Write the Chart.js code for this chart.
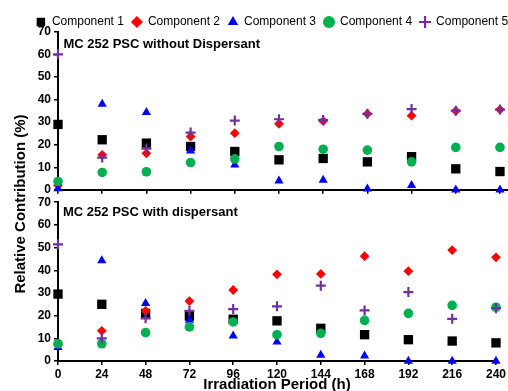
<!DOCTYPE html>
<html><head><meta charset="utf-8">
<script src="https://cdn.jsdelivr.net/npm/chart.js@4.4.1/dist/chart.umd.min.js"></script>
<style>
html,body{margin:0;padding:0;background:#fff;overflow:hidden;}
#wrap{position:relative;width:508px;height:391px;overflow:hidden;background:#fff;}
#c1{position:absolute;left:0;top:0;}
#c2{position:absolute;left:0;top:192px;}
#ytitle{position:absolute;left:-80px;top:195px;width:200px;height:18px;line-height:18px;text-align:center;font:bold 15px "Liberation Sans",Arial,sans-serif;transform:rotate(-90deg);color:#000;white-space:nowrap;z-index:5;}
</style></head>
<body><div id="wrap">
<canvas id="c1" width="544" height="200"></canvas>
<canvas id="c2" width="508" height="210"></canvas>
<div id="ytitle">Relative Contribution (%)</div>
</div>
<script>
// ---- data ----
const hours = [0, 24, 48, 72, 96, 120, 144, 168, 192, 216, 240];
const seriesNames = ['Component 1', 'Component 2', 'Component 3', 'Component 4', 'Component 5'];
const yTicks = [0, 10, 20, 30, 40, 50, 60, 70];
const panelTitles = ['MC 252 PSC without Dispersant', 'MC 252 PSC with dispersant'];

// without dispersant (top panel)
const topC1 = [29, 22.2, 20.7, 19.2, 17, 13.3, 13.9, 12.4, 14.7, 9.3, 8.1];
const topC2 = [2, 15.5, 16.2, 23.6, 25.1, 29.3, 30.5, 33.7, 32.9, 35, 35.6];
const topC3 = [0.5, 38, 34.4, 17.3, 11.1, 4, 4.3, 0.4, 2, 0, 0];
const topC4 = [3.7, 7.7, 8, 12.1, 13.7, 19.2, 18, 17.6, 12.4, 18.8, 18.8];
const topC5 = [60.1, 14.3, 18.2, 25.4, 30.7, 31.3, 31, 33.7, 35.8, 35.1, 35.6];

// with dispersant (bottom panel)
const botC1 = [29.5, 25, 21, 19.8, 18.4, 17.7, 14.4, 11.6, 9.4, 8.8, 8];
const botC2 = [7, 13.3, 22.1, 26.4, 31.3, 38.2, 38.4, 46.2, 39.6, 48.9, 45.7];
const botC3 = [6, 44.3, 25.4, 18, 11.1, 8.4, 2.6, 2.3, 0, 0, 0];
const botC4 = [7.6, 7.6, 12.5, 15, 17.2, 11.6, 12.2, 17.9, 21, 24.5, 23.7];
const botC5 = [51.4, 10, 18.8, 22.1, 22.9, 24.1, 33.2, 22.3, 30.4, 18.6, 23.3];

// ---- styles ----
const colors = ['#000000', '#ff0000', '#0000ff', '#00b050', '#7030a0'];
const styles = ['rect', 'rectRot', 'triangle', 'circle', 'cross'];
const radii = [6.6, 4.9, 5.3, 4.8, 5];

Chart.defaults.font.family = '"Liberation Sans", Arial, sans-serif';
Chart.defaults.color = '#000';

function makeDatasets(series) {
  return series.map((vals, i) => ({
    label: seriesNames[i],
    data: hours.map((h, j) => ({x: h, y: vals[j]})),
    pointStyle: styles[i],
    pointRadius: radii[i],
    pointHoverRadius: radii[i],
    backgroundColor: colors[i],
    borderColor: colors[i],
    borderWidth: styles[i] === 'cross' ? 2.2 : 0,
    showLine: false,
    clip: false,
    order: 4 - i
  }));
}

const panelTitle = {
  id: 'panelTitle',
  afterDraw(chart, args, opts) {
    const {ctx, chartArea} = chart;
    ctx.save();
    ctx.font = 'bold 13px "Liberation Sans", Arial, sans-serif';
    ctx.fillStyle = '#000';
    ctx.textBaseline = 'middle';
    ctx.textAlign = 'left';
    ctx.fillText(opts.text, chartArea.left + opts.dx, chartArea.top + opts.dy);
    ctx.restore();
  }
};

const gridOpts = {display: true, drawOnChartArea: false, drawTicks: true, tickLength: 4, color: '#000', lineWidth: 1.5};
const borderOpts = {display: true, color: '#000', width: 2};

function yScale() {
  return {
    type: 'linear', min: yTicks[0], max: yTicks[yTicks.length - 1],
    afterFit(s) { s.width = 58; },
    ticks: {stepSize: 10, color: '#000', font: {size: 12, weight: 'bold'}, padding: 3},
    grid: gridOpts, border: borderOpts
  };
}

new Chart(document.getElementById('c1'), {
  type: 'scatter',
  data: {datasets: makeDatasets([topC1, topC2, topC3, topC4, topC5])},
  plugins: [panelTitle],
  options: {
    responsive: false, animation: false, events: [],
    layout: {padding: {left: 0, right: 0, top: 8, bottom: 6}},
    plugins: {
      legend: {
        display: true, position: 'top', maxHeight: 24,
        labels: {
          usePointStyle: true, boxWidth: 10, boxHeight: 8.5, padding: 8,
          color: '#000', font: {size: 12},
          sort: (a, b) => a.datasetIndex - b.datasetIndex
        }
      },
      tooltip: {enabled: false},
      panelTitle: {text: panelTitles[0], dx: 5.5, dy: 12.3}
    },
    scales: {
      x: {
        type: 'linear', min: 0, max: 260,
        afterFit(s) { s.height = 4; },
        ticks: {display: false, stepSize: 24},
        grid: gridOpts, border: borderOpts
      },
      y: yScale()
    }
  }
});

new Chart(document.getElementById('c2'), {
  type: 'scatter',
  data: {datasets: makeDatasets([botC1, botC2, botC3, botC4, botC5])},
  plugins: [panelTitle],
  options: {
    responsive: false, animation: false, events: [],
    layout: {padding: {left: 0, right: 11, top: 10, bottom: 8}},
    plugins: {
      legend: {display: false},
      tooltip: {enabled: false},
      panelTitle: {text: panelTitles[1], dx: 5, dy: 10}
    },
    scales: {
      x: {
        type: 'linear', min: hours[0], max: hours[hours.length - 1],
        afterFit(s) { s.height = 33; },
        ticks: {stepSize: 24, color: '#000', font: {size: 12, weight: 'bold'}, padding: 2, maxRotation: 0, autoSkip: false},
        title: {display: true, text: 'Irradiation Period (h)', color: '#000', font: {size: 15, weight: 'bold'}, padding: 0},
        grid: gridOpts, border: borderOpts
      },
      y: yScale()
    }
  }
});
</script>
</body></html>
